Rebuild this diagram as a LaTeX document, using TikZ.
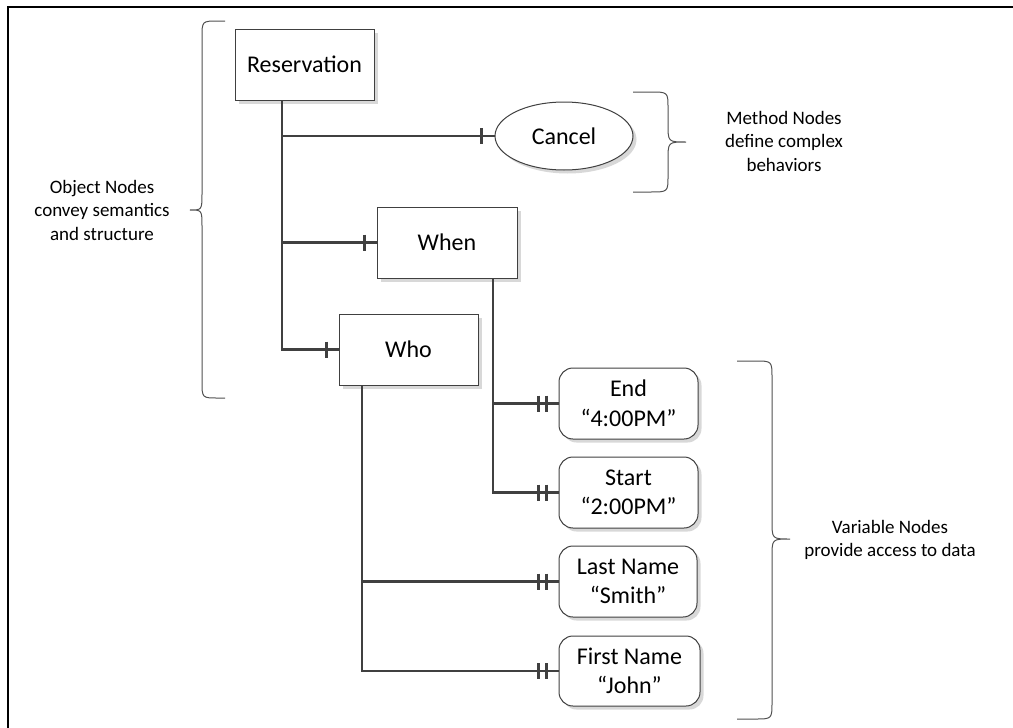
\documentclass[tikz,border=0pt]{standalone}
\usepackage{fontspec}
\setmainfont{Carlito}
\usetikzlibrary{shapes.geometric,shadows}
\definecolor{linegray}{HTML}{404040}
\definecolor{shadegray}{HTML}{D8D8D8}
\definecolor{bracegray}{HTML}{505050}

\tikzset{
  objbox/.style={draw=linegray, line width=1pt, fill=white,
    minimum width=139pt, minimum height=71pt, inner sep=0pt,
    font=\fontsize{24}{29.5}\selectfont,
    drop shadow={shadow xshift=3.5pt, shadow yshift=-3.5pt, fill=shadegray, opacity=1}},
  varbox/.style={objbox, rounded corners=14pt, align=center},
  methnode/.style={objbox, ellipse, minimum width=138pt, minimum height=68pt},
  link/.style={draw=linegray, line width=2.3pt},
  tick/.style={draw=linegray, line width=2.3pt},
  note/.style={align=center, font=\fontsize{19}{23.5}\selectfont},
  bracket/.style={draw=bracegray, line width=1pt},
  frame/.style={draw=black, line width=2pt}
}

\begin{document}
\begin{tikzpicture}[x=1pt, y=-1pt]
\useasboundingbox (0,0) rectangle (1013,728);

% partial frame (top and left edges)
\draw[frame] (7.5,728) -- (7.5,6.5) -- (1013,6.5);

% vertical trunk positions
\coordinate (rtrunk) at (282,0);
\coordinate (wtrunk) at (493,0);
\coordinate (htrunk) at (362,0);

% object, method and variable nodes
\node[objbox]   (res)    at (304.5,64.5) {Reservation};
\node[methnode] (cancel) at (564,136)    {Cancel};
\node[objbox, minimum width=140pt] (when) at (447,242.5) {When};
\node[objbox]   (who)    at (408.5,349.5) {Who};
\node[varbox]   (end)    at (628.5,403.5) {End\\“4:00PM”};
\node[varbox]   (start)  at (628.5,492.5) {Start\\“2:00PM”};
\node[varbox, minimum width=138pt] (last)  at (628,581.5) {Last Name\\“Smith”};
\node[varbox, minimum width=141pt, minimum height=70pt] (first) at (629.5,671) {First Name\\“John”};

% connectors from Reservation
\draw[link] (res.south -| rtrunk) -- (who.west -| rtrunk) -- (who.west);
\draw[link] (cancel.west -| rtrunk) -- (cancel.west);
\draw[link] (when.west -| rtrunk) -- (when.west);

% connectors from When
\draw[link] (when.south -| wtrunk) -- (start.west -| wtrunk) -- (start.west);
\draw[link] (end.west -| wtrunk) -- (end.west);

% connectors from Who
\draw[link] (who.south -| htrunk) -- (first.west -| htrunk) -- (first.west);
\draw[link] (last.west -| htrunk) -- (last.west);

% single bars
\foreach \n/\d in {cancel/13, when/12, who/12}
  \draw[tick] ([xshift=-\d pt]\n.west) ++(0,-8) -- ++(0,16);
% double bars
\foreach \n in {end, start, last, first} {
  \draw[tick] ([xshift=-12pt]\n.west) ++(0,-8) -- ++(0,16);
  \draw[tick] ([xshift=-20pt]\n.west) ++(0,-8) -- ++(0,16);
}

% braces
\draw[bracket] (225,21) -- (218,21) .. controls (202,21) .. (202,38)
  -- (202,193) .. controls (202,210) .. (190,210)
  .. controls (202,210) .. (202,227)
  -- (202,381) .. controls (202,398) .. (218,398) -- (225,398);
\draw[bracket] (633,92) -- (650,92) .. controls (668,92) .. (668,108)
  -- (668,124) .. controls (668,142) .. (686,142)
  .. controls (668,142) .. (668,160)
  -- (668,176) .. controls (668,192) .. (650,192) -- (633,192);
\draw[bracket] (737,361) -- (755,361) .. controls (772,361) .. (772,378)
  -- (772,521) .. controls (772,539) .. (790,539)
  .. controls (772,539) .. (772,557)
  -- (772,702) .. controls (772,719) .. (755,719) -- (737,719);

% annotations
\node[note] (objnote) at (102,210) {Object Nodes\\convey semantics\\and structure};
\node[note] (methnote) at (784,141) {Method Nodes\\define complex\\behaviors};
\node[note] (varnote) at (890,540) {Variable Nodes\\provide access to data};
\end{tikzpicture}
\end{document}
